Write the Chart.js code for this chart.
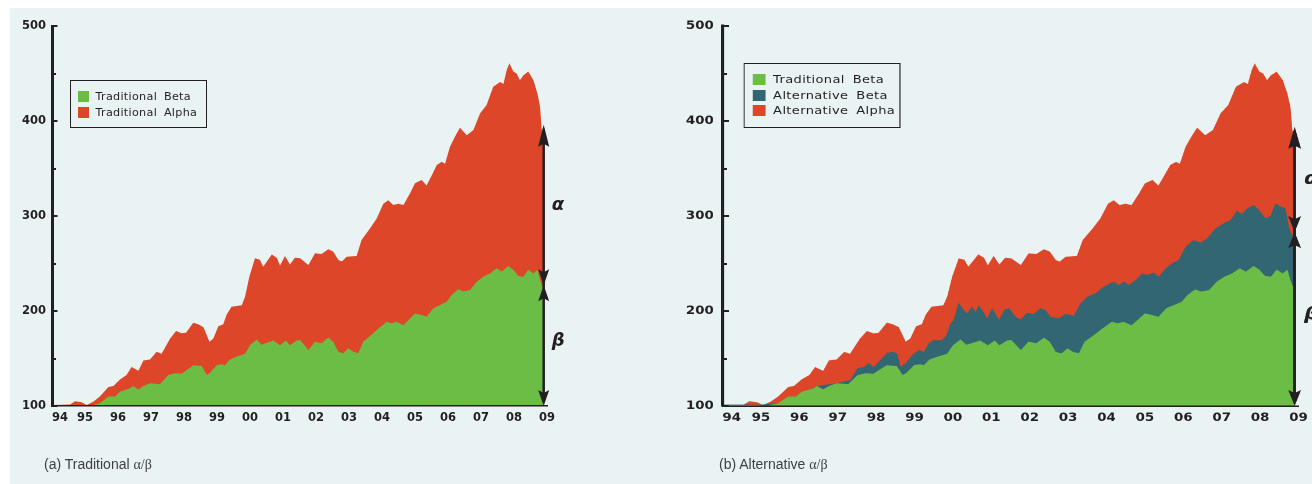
<!DOCTYPE html>
<html><head><meta charset="utf-8">
<script src="https://cdn.jsdelivr.net/npm/chart.js@4.4.1/dist/chart.umd.min.js"></script>
<style>
html,body{margin:0;padding:0;background:#fff;}
body{width:1312px;height:484px;position:relative;overflow:hidden;}
#bg{position:absolute;left:10px;top:8px;width:1302px;height:476px;background:#e9f3f4;}
.panel{position:absolute;top:0;width:570px;height:484px;}
.panel canvas{position:absolute;left:0;top:0;}
.legend{position:absolute;border:1.5px solid #231f20;box-sizing:border-box;font-family:'DejaVu Sans',sans-serif;font-size:11.2px;letter-spacing:0.3px;word-spacing:3px;color:#231f20;}
.legend .row{position:absolute;left:6.5px;display:flex;align-items:center;height:14px;white-space:nowrap;}
.legend .sw{width:11px;height:11px;margin-right:7px;flex:none;}
.cap{position:absolute;top:456px;font-family:'Liberation Sans',Arial,sans-serif;font-size:14px;color:#3f3f3f;white-space:nowrap;}
.cap .g{font-family:'Liberation Serif',serif;}
</style></head>
<body>
<div id="bg"></div>
<div id="panelA" class="panel" style="left:0">
  <canvas id="cA" width="570" height="484"></canvas>
  <div id="legA" class="legend" style="left:70px;top:80px;width:137px;height:48px"></div>
</div>
<div id="panelB" class="panel" style="left:661.5px;transform:scaleX(1.1636);transform-origin:0 0">
  <canvas id="cB" width="570" height="484"></canvas>
  <div id="legB" class="legend" style="left:70px;top:63px;width:135px;height:65px"></div>
</div>
<div class="cap" style="left:44px">(a) Traditional <span class="g">α/β</span></div>
<div class="cap" style="left:719px">(b) Alternative <span class="g">α/β</span></div>
<script>
const INK = '#231f20';
const GREEN = '#6bbd45', TEAL = '#336673', RED = '#dd4628';

const yearTickValues = [1994,1995,1996,1997,1998,1999,2000,2001,2002,2003,2004,2005,2006,2007,2008,2009];
const yearLabels = ['94','95','96','97','98','99','00','01','02','03','04','05','06','07','08','09'];
const yTickLabels = [100,200,300,400,500];
const firstLabelNudge = 0.24;

// total level (top of the stack)
const totalYears = [1994.00,1994.55,1994.70,1994.90,1995.05,1995.25,1995.45,1995.71,1995.86,1996.06,1996.26,1996.41,1996.62,1996.77,1996.97,1997.17,1997.32,1997.58,1997.76,1997.93,1998.06,1998.28,1998.43,1998.59,1998.77,1998.89,1999.04,1999.19,1999.29,1999.44,1999.75,1999.85,1999.98,2000.15,2000.30,2000.40,2000.51,2000.66,2000.81,2000.91,2001.06,2001.21,2001.36,2001.52,2001.77,2001.97,2002.17,2002.37,2002.52,2002.68,2002.78,2002.93,2003.23,2003.38,2003.64,2003.84,2004.04,2004.19,2004.34,2004.49,2004.65,2004.85,2005.00,2005.20,2005.35,2005.51,2005.66,2005.81,2005.91,2006.06,2006.21,2006.36,2006.57,2006.77,2006.97,2007.17,2007.37,2007.58,2007.68,2007.78,2007.86,2007.98,2008.08,2008.18,2008.28,2008.43,2008.59,2008.71,2008.79,2008.84,2008.88];
const totalLevel = [101,101.5,105,104,101,104.5,110,120,121,128,132.6,141,137,148,149,157,155,171,179,176.5,177,187.7,186,183,167.7,171,184,186,196,204.5,206,215,236,255.4,254,246.7,252,259.6,256,248,258,249,256,255.4,248.4,260.7,260,265,262.6,253.7,252,257,258,274.7,287,297.5,313,316.6,311.5,313,311.5,324,334.4,338,332,343,353.7,357,355,373,383.5,393,385,390.5,408,416.8,436,441,439,453.7,460.7,452,450,443,448,452,443,429,415,390.5,385];

// traditional beta level
const tradBetaYears = [1994.00,1994.55,1994.95,1995.15,1995.45,1995.71,1995.91,1996.06,1996.36,1996.46,1996.62,1996.77,1996.97,1997.27,1997.52,1997.73,1997.93,1998.08,1998.28,1998.54,1998.69,1998.79,1998.99,1999.14,1999.24,1999.39,1999.60,1999.85,2000.00,2000.20,2000.35,2000.56,2000.71,2000.91,2001.09,2001.21,2001.41,2001.52,2001.77,2001.97,2002.17,2002.37,2002.52,2002.68,2002.83,2002.98,2003.13,2003.28,2003.43,2003.64,2003.84,2004.14,2004.29,2004.44,2004.65,2004.85,2005.00,2005.20,2005.35,2005.56,2005.76,2005.96,2006.11,2006.31,2006.46,2006.67,2006.87,2007.07,2007.27,2007.47,2007.63,2007.83,2007.98,2008.13,2008.28,2008.43,2008.59,2008.71,2008.79,2008.84,2008.88];
const tradBetaLevel = [101,101,101,100,103,110,110,115,118.6,121,117.5,121,124,123,132.6,134.5,134,138,143,142,132.6,135,143,144,143,149,152,155,164,170,164.5,167,169,164,169,164,169,169.5,159,167.7,166,172,167.7,157,155.4,160.7,157,155.4,167.7,173.7,180,188.7,187,188.7,185,192,197.5,195.7,194,203,206.3,209.8,216.8,222.8,220.5,222,230.9,236,239.6,245,241.5,247.4,243.5,236.8,236,243.5,239.6,243.5,232.6,227,225];

// alternative beta level (traditional + alternative beta)
const altBetaYears = [1994.00,1995.00,1995.45,1995.91,1996.46,1996.97,1997.07,1997.33,1997.51,1997.68,1997.81,1997.94,1998.11,1998.29,1998.46,1998.55,1998.64,1998.77,1998.94,1999.11,1999.24,1999.37,1999.50,1999.68,1999.81,1999.94,2000.02,2000.15,2000.28,2000.37,2000.50,2000.59,2000.67,2000.80,2000.89,2001.02,2001.20,2001.33,2001.46,2001.63,2001.76,2001.93,2002.11,2002.28,2002.41,2002.54,2002.76,2002.93,2003.15,2003.32,2003.50,2003.71,2003.93,2004.19,2004.32,2004.45,2004.58,2004.76,2004.93,2005.06,2005.23,2005.36,2005.54,2005.71,2005.88,2006.06,2006.27,2006.45,2006.62,2006.84,2007.05,2007.23,2007.40,2007.53,2007.66,2007.84,2007.97,2008.14,2008.27,2008.40,2008.53,2008.66,2008.75,2008.79,2008.84,2008.88];
const altBetaLevel = [101.5,101.5,103,110,121,124,125,127.4,139.6,141,145,141,148.4,156,157,155,141,145,153.7,159,157,166,169.5,169,173,187,190.5,208.8,201,197.5,204.5,199,206,199,192,203,190.5,201,203,194,191,198,197,203,201,194,192.3,197,195,208,215,218.6,225.6,230.9,227.4,231,227.4,232.6,239.6,238,240.4,236,245,250.2,253.7,267.7,274.7,272,276.5,287,292.3,295.8,305.6,302,308,311.6,306.3,297.6,300,313.4,310,308.2,288.7,283.5,280,278];

const legendA = ['Traditional Beta','Traditional Alpha'];
const legendB = ['Traditional Beta','Alternative Beta','Alternative Alpha'];

const arrowYear = 2008.9;
const arrowLevelsA = [100, 227, 396];
const arrowLevelsB = [100, 283, 394];

const pts = (xs, ys) => xs.map((x, i) => ({x: x, y: ys[i]}));

const inwardTicks = {
  id: 'inwardTicks',
  afterDraw(chart) {
    const y = chart.scales.y, ctx = chart.ctx, left = chart.chartArea.left;
    ctx.save(); ctx.strokeStyle = INK; ctx.lineWidth = 2;
    y.ticks.forEach(t => {
      const p = Math.round(y.getPixelForValue(t.value));
      const major = yTickLabels.includes(t.value);
      ctx.beginPath(); ctx.moveTo(left, p); ctx.lineTo(left + (major ? 5.5 : 4), p); ctx.stroke();
    });
    ctx.restore();
  }
};

const arrows = {
  id: 'arrows',
  afterDatasetsDraw(chart, args, opts) {
    const xs = chart.scales.x, ys = chart.scales.y, ctx = chart.ctx;
    const x = xs.getPixelForValue(opts.year);
    const [yb, ym, yt] = opts.levels.map(v => ys.getPixelForValue(v));
    ctx.save();
    ctx.strokeStyle = INK; ctx.fillStyle = INK; ctx.lineWidth = 2.5;
    ctx.beginPath(); ctx.moveTo(x, yb - 4); ctx.lineTo(x, yt + 4); ctx.stroke();
    const head = (tip, dir, len) => {
      ctx.beginPath();
      ctx.moveTo(x, tip);
      ctx.lineTo(x - 5.5, tip - dir * len);
      ctx.lineTo(x, tip - dir * (len - 3));
      ctx.lineTo(x + 5.5, tip - dir * len);
      ctx.closePath(); ctx.fill();
    };
    head(yt, -1, 22); head(ym, 1, 16); head(ym, -1, 16); head(yb, 1, 16);
    ctx.font = 'bold italic 18px "DejaVu Sans"';
    ctx.textAlign = 'left'; ctx.textBaseline = 'middle';
    ctx.fillText('α', x + 8, (yt + ym) / 2);
    ctx.fillText('β', x + 8, (ym + yb) / 2 - 4);
    ctx.restore();
  }
};

const tickFont = {family: 'DejaVu Sans', size: 11.5, weight: 'bold'};

function makeScales(labelPad) {
  return {
    x: {
      type: 'linear', min: 1994, max: 2009,
      afterFit(s) { s.height = 78; },
      afterBuildTicks(s) { s.ticks = yearTickValues.map((v, i) => ({value: i === 0 ? v + firstLabelNudge : v})); },
      ticks: {autoSkip: false, maxRotation: 0, padding: 5, color: INK, font: tickFont,
              callback: (v, i) => yearLabels[i]},
      grid: {drawOnChartArea: false, drawTicks: false},
      border: {color: INK, width: 1.5, z: 1}
    },
    y: {
      type: 'linear', min: 100, max: 500,
      afterFit(s) { s.width = 52; },
      ticks: {stepSize: 50, padding: labelPad, color: INK, font: tickFont,
              callback: v => yTickLabels.includes(v) ? String(v) : ''},
      grid: {drawOnChartArea: false, drawTicks: false},
      border: {color: INK, width: 3, z: 1}
    }
  };
}

function ds(label, data, color) {
  return {label: label, data: data, backgroundColor: color, borderColor: color,
          fill: 'origin', borderWidth: 0, pointRadius: 0, tension: 0};
}

function build(canvasId, datasets, levels, labelPad, dpr) {
  return new Chart(document.getElementById(canvasId), {
    type: 'line',
    data: {datasets: datasets},
    options: {
      responsive: false, animation: false, devicePixelRatio: dpr,
      layout: {padding: {left: 0, right: 23, top: 26, bottom: 0}},
      plugins: {legend: {display: false}, tooltip: {enabled: false},
                arrows: {year: arrowYear, levels: levels}},
      scales: makeScales(labelPad)
    },
    plugins: [arrows, inwardTicks]
  });
}

build('cA', [
  ds(legendA[0], pts(tradBetaYears, tradBetaLevel), GREEN),
  ds(legendA[1], pts(totalYears, totalLevel), RED)
], arrowLevelsA, 6, 1);

build('cB', [
  ds(legendB[0], pts(tradBetaYears, tradBetaLevel), GREEN),
  ds(legendB[1], pts(altBetaYears, altBetaLevel), TEAL),
  ds(legendB[2], pts(totalYears, totalLevel), RED)
], arrowLevelsB, 7.5, 2);

function legend(id, labels, colors) {
  const box = document.getElementById(id);
  labels.forEach((l, i) => {
    const r = document.createElement('div');
    r.className = 'row';
    r.style.top = (8.3 + i * 15.7) + 'px';
    const sw = document.createElement('span');
    sw.className = 'sw'; sw.style.background = colors[i];
    const t = document.createElement('span');
    t.textContent = l;
    r.appendChild(sw); r.appendChild(t);
    box.appendChild(r);
  });
}
legend('legA', legendA, [GREEN, RED]);
legend('legB', legendB, [GREEN, TEAL, RED]);
</script>
</body></html>
